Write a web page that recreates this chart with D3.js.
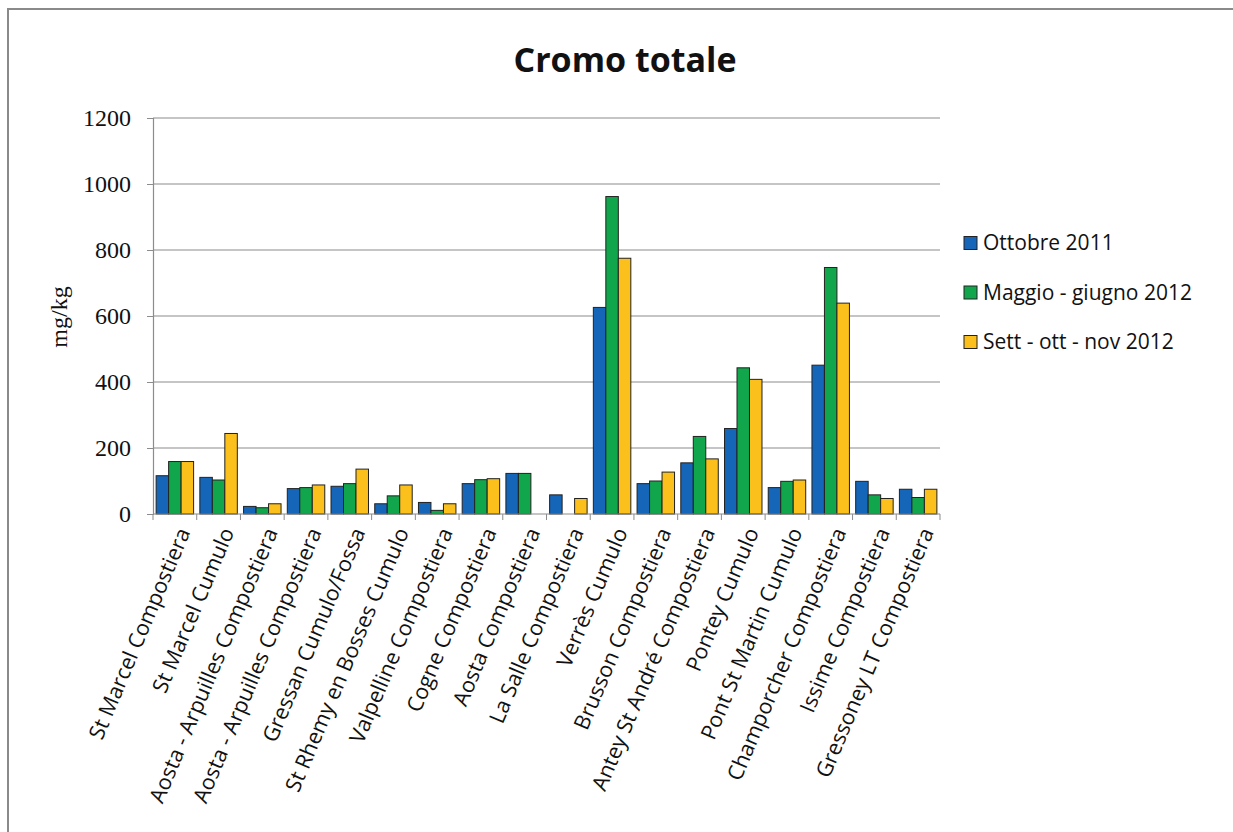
<!DOCTYPE html>
<html><head><meta charset="utf-8">
<script src="https://cdn.jsdelivr.net/npm/d3@7"></script>
<style>html,body{margin:0;padding:0;background:#fff;overflow:hidden}</style>
</head><body>
<svg id="chart" width="1233" height="832"></svg>
<script>
const categories = ["St Marcel Compostiera","St Marcel Cumulo","Aosta - Arpuilles Compostiera","Aosta - Arpuilles Compostiera","Gressan Cumulo/Fossa","St Rhemy en Bosses Cumulo","Valpelline Compostiera","Cogne Compostiera","Aosta Compostiera","La Salle Compostiera","Verrès Cumulo","Brusson Compostiera","Antey St André Compostiera","Pontey Cumulo","Pont St Martin Cumulo","Champorcher Compostiera","Issime Compostiera","Gressoney LT Compostiera"];
const seriesNames = ["Ottobre 2011","Maggio - giugno 2012","Sett - ott - nov 2012"];
const ottobre2011 = [116,111,23,77,84,31,35,92,123,58,626,92,155,259,80,451,99,75];
const maggioGiugno2012 = [159,103,19,80,92,55,11,104,123,null,962,100,235,443,99,747,58,50];
const settOttNov2012 = [159,244,31,88,136,88,31,107,null,47,775,127,167,408,103,639,47,75];
const yTicks = [0,200,400,600,800,1000,1200];
const title = "Cromo totale";
const yLabel = "mg/kg";

const colors = ["#1565b8","#12a64c","#fbc01b"];
const series = [ottobre2011, maggioGiugno2012, settOttNov2012];

const svg = d3.select("#chart");
const pLeft = 153, pRight = 940, pTop = 118, pBottom = 514;

// outer frame (top and left edges visible)
svg.append("line").attr("x1",8).attr("x2",1240).attr("y1",9).attr("y2",9).attr("stroke","#8a8a8a").attr("stroke-width",2);
svg.append("line").attr("x1",8).attr("x2",8).attr("y1",8).attr("y2",840).attr("stroke","#8a8a8a").attr("stroke-width",2);

const x = d3.scaleBand().domain(d3.range(categories.length)).range([pLeft,pRight]).paddingInner(0).paddingOuter(0);
const xs = d3.scaleBand().domain(d3.range(3)).range([0,x.bandwidth()]).paddingOuter(0.25).paddingInner(0);
const y = d3.scaleLinear().domain([0,1200]).range([pBottom,pTop]);

svg.append("g").selectAll("line").data(yTicks.filter(d=>d>0)).join("line")
  .attr("x1",pLeft).attr("x2",pRight).attr("y1",d=>y(d)).attr("y2",d=>y(d))
  .attr("stroke","#8c8c8c").attr("stroke-width",1.2);

const yAxis = svg.append("g").attr("transform",`translate(${pLeft},0)`)
  .call(d3.axisLeft(y).tickValues(yTicks).tickFormat(d3.format("d")).tickSize(6).tickPadding(16));
yAxis.select(".domain").attr("stroke","#8c8c8c").attr("stroke-width",1.2);
yAxis.selectAll(".tick line").attr("stroke","#8c8c8c");
yAxis.selectAll("text").attr("font-family","'Liberation Serif',serif").attr("font-size",24).attr("fill","#111");

const groups = svg.append("g").selectAll("g").data(series).join("g").attr("fill",(d,i)=>colors[i]);
groups.each(function(vals,si){
  d3.select(this).selectAll("rect").data(vals.map((v,ci)=>({v,ci})).filter(d=>d.v!=null)).join("rect")
    .attr("x",d=>x(d.ci)+xs(si))
    .attr("width",xs.bandwidth())
    .attr("y",d=>y(d.v))
    .attr("height",d=>pBottom-y(d.v))
    .attr("stroke","#222").attr("stroke-width",1);
});

const xAxisTicks = d3.range(categories.length+1).map(i=>pLeft+i*x.bandwidth());
svg.append("line").attr("x1",pLeft).attr("x2",pRight).attr("y1",pBottom).attr("y2",pBottom).attr("stroke","#8c8c8c").attr("stroke-width",1.2);
svg.append("g").selectAll("line").data(xAxisTicks).join("line")
  .attr("x1",d=>d).attr("x2",d=>d).attr("y1",pBottom).attr("y2",pBottom+6).attr("stroke","#8c8c8c");

svg.append("g").selectAll("text").data(categories).join("text")
  .attr("transform",(d,i)=>`translate(${x(i)+x.bandwidth()/2+9},${pBottom+15}) rotate(-67)`)
  .attr("text-anchor","end").attr("dy","0.35em")
  .attr("font-family","'Open Sans',sans-serif").attr("font-size",21.5).attr("fill","#111")
  .text(d=>d);

svg.append("text").attr("x",625).attr("y",72).attr("text-anchor","middle")
  .attr("font-family","'Open Sans',sans-serif").attr("font-weight","bold").attr("font-size",34).attr("fill","#111")
  .text(title);

svg.append("text").attr("transform","translate(67,317) rotate(-90)").attr("text-anchor","middle")
  .attr("font-family","'Liberation Serif',serif").attr("font-size",24).attr("fill","#111").text(yLabel);

const leg = svg.append("g").selectAll("g").data(seriesNames).join("g")
  .attr("transform",(d,i)=>`translate(964,${243+i*49.5})`);
leg.append("rect").attr("x",0).attr("y",-6.5).attr("width",13).attr("height",13)
  .attr("fill",(d,i)=>colors[i]).attr("stroke","#222").attr("stroke-width",1);
leg.append("text").attr("x",19).attr("y",0).attr("dy","0.35em")
  .attr("font-family","'Open Sans',sans-serif").attr("font-size",21).attr("fill","#111").text(d=>d);
</script>
</body></html>
